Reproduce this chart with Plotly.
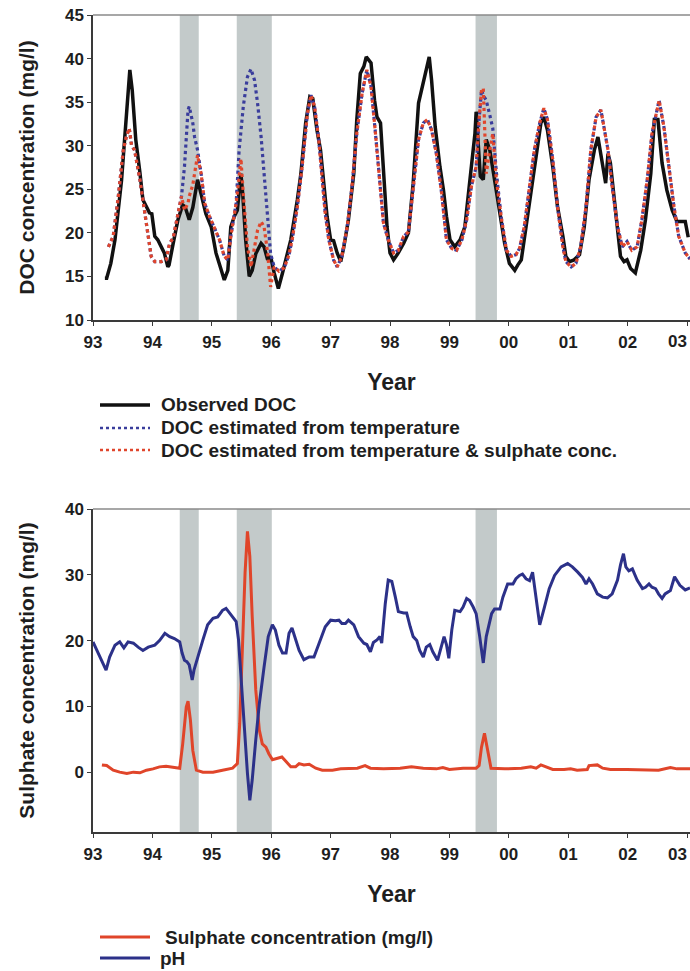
import plotly.graph_objects as go

# ---------------- DATA ----------------
year_ticks = [1993, 1994, 1995, 1996, 1997, 1998, 1999, 2000, 2001, 2002, 2003]
year_labels = ["93", "94", "95", "96", "97", "98", "99", "00", "01", "02", "03"]

band_start = [1994.46, 1995.42, 1999.44]
band_end = [1994.78, 1996.01, 1999.80]

obs_year = [1993.20, 1993.23, 1993.30, 1993.37, 1993.48, 1993.55, 1993.62, 1993.66, 1993.72, 1993.79,
            1993.84, 1993.90, 1993.95, 1993.99, 1994.04, 1994.09, 1994.15, 1994.20, 1994.26, 1994.28,
            1994.35, 1994.43, 1994.51, 1994.55, 1994.62, 1994.68, 1994.76, 1994.82, 1994.90, 1994.99,
            1995.07, 1995.16, 1995.21, 1995.27, 1995.32, 1995.38, 1995.43, 1995.49, 1995.52, 1995.57,
            1995.63, 1995.68, 1995.74, 1995.83, 1995.88, 1995.94, 1995.99, 1996.05, 1996.12, 1996.19,
            1996.27, 1996.33, 1996.44, 1996.50, 1996.58, 1996.65, 1996.70, 1996.77, 1996.83, 1996.89,
            1996.94, 1997.00, 1997.05, 1997.11, 1997.17, 1997.22, 1997.30, 1997.39, 1997.44, 1997.50,
            1997.56, 1997.60, 1997.68, 1997.74, 1997.78, 1997.84, 1997.89, 1997.95, 1998.00, 1998.06,
            1998.14, 1998.23, 1998.31, 1998.39, 1998.48, 1998.56, 1998.66, 1998.70, 1998.76, 1998.84,
            1998.90, 1998.95, 1999.01, 1999.09, 1999.18, 1999.26, 1999.34, 1999.43, 1999.45, 1999.49,
            1999.52, 1999.57, 1999.62, 1999.68, 1999.76, 1999.85, 1999.93, 2000.01, 2000.10, 2000.15,
            2000.21, 2000.29, 2000.38, 2000.46, 2000.54, 2000.59, 2000.65, 2000.74, 2000.82, 2000.91,
            2000.96, 2001.02, 2001.10, 2001.19, 2001.27, 2001.35, 2001.44, 2001.50, 2001.56, 2001.60,
            2001.63, 2001.67, 2001.71, 2001.77, 2001.83, 2001.88, 2001.94, 2001.99, 2002.05, 2002.13,
            2002.22, 2002.30, 2002.39, 2002.45, 2002.51, 2002.58, 2002.66, 2002.75, 2002.83, 2002.97,
            2003.02]
obs_doc = [14.8, 14.8, 16.5, 19.2, 26.0, 32.6, 38.7, 36.4, 30.7, 26.9,
           23.8, 23.0, 22.3, 22.2, 19.6, 19.2, 18.4, 17.7, 16.1, 16.3,
           18.8, 21.5, 23.2, 23.0, 21.5, 22.9, 26.1, 24.5, 22.2, 20.7,
           17.7, 15.7, 14.6, 15.7, 20.7, 21.9, 22.6, 26.8, 24.5, 19.2,
           15.0, 15.7, 17.6, 18.8, 18.4, 16.9, 17.3, 15.4, 13.6, 15.4,
           17.7, 19.2, 23.8, 26.8, 32.6, 35.6, 35.4, 31.8, 29.5, 25.3,
           21.9, 19.2, 19.1, 17.7, 16.7, 18.3, 21.5, 26.8, 32.9, 38.3,
           39.1, 40.2, 39.5, 35.2, 33.3, 32.6, 27.6, 20.7, 17.7, 16.9,
           17.7, 18.8, 20.0, 25.7, 34.9, 37.2, 40.2, 37.5, 32.2, 27.6,
           24.9, 21.9, 19.2, 18.4, 19.2, 20.7, 25.7, 31.4, 33.9, 29.7,
           26.5, 26.1, 30.7, 29.5, 26.1, 21.9, 18.8, 16.5, 15.7, 16.3,
           16.9, 20.7, 24.9, 28.7, 32.6, 33.3, 31.8, 27.6, 23.0, 19.6,
           17.3, 16.7, 16.9, 17.5, 20.7, 26.1, 29.5, 31.0, 28.7, 26.8,
           25.7, 29.1, 28.0, 24.2, 20.7, 17.3, 16.7, 16.9, 15.9, 15.4,
           18.0, 21.5, 26.8, 33.0, 33.0, 28.0, 24.9, 22.6, 21.3, 21.3,
           19.5]

est_year = [1993.26, 1993.34, 1993.42, 1993.51, 1993.56, 1993.61, 1993.65, 1993.70, 1993.79, 1993.87,
            1993.93, 1993.98, 1994.04, 1994.15, 1994.23, 1994.29, 1994.35, 1994.43, 1994.49, 1994.54,
            1994.60, 1994.62, 1994.68, 1994.71, 1994.76, 1994.82, 1994.88, 1994.96, 1995.04, 1995.13,
            1995.21, 1995.27, 1995.32, 1995.41, 1995.46, 1995.49, 1995.53, 1995.60, 1995.66, 1995.72,
            1995.77, 1995.83, 1995.88, 1995.94, 1995.99, 1996.05, 1996.13, 1996.22, 1996.30, 1996.36,
            1996.44, 1996.52, 1996.61, 1996.67, 1996.73, 1996.80, 1996.86, 1996.91, 1996.97, 1997.05,
            1997.11, 1997.19, 1997.28, 1997.36, 1997.44, 1997.53, 1997.61, 1997.68, 1997.75, 1997.84,
            1997.89, 1997.97, 1998.06, 1998.14, 1998.23, 1998.31, 1998.39, 1998.48, 1998.56, 1998.63,
            1998.70, 1998.78, 1998.87, 1998.95, 1999.04, 1999.12, 1999.21, 1999.29, 1999.37, 1999.45,
            1999.50, 1999.54, 1999.57, 1999.59, 1999.62, 1999.68, 1999.73, 1999.79, 1999.87, 1999.96,
            2000.04, 2000.12, 2000.18, 2000.26, 2000.35, 2000.43, 2000.52, 2000.59, 2000.65, 2000.74,
            2000.82, 2000.91, 2000.96, 2001.05, 2001.13, 2001.21, 2001.30, 2001.38, 2001.47, 2001.55,
            2001.60, 2001.67, 2001.74, 2001.83, 2001.91, 2001.99, 2002.07, 2002.16, 2002.24, 2002.33,
            2002.41, 2002.53, 2002.61, 2002.69, 2002.78, 2002.86, 2002.97, 2003.05]
doc_temp = [18.4, 19.6, 23.8, 29.5, 31.0, 32.0, 30.0, 29.5, 26.1, 22.2,
            19.2, 17.3, 16.7, 16.7, 16.9, 18.8, 19.4, 21.9, 24.2, 27.6,
            34.1, 34.5, 32.6, 31.0, 29.5, 26.8, 23.4, 21.9, 20.7, 19.2,
            17.3, 16.9, 19.6, 23.4, 29.5, 32.0, 34.5, 37.9, 38.8, 37.5,
            34.9, 31.0, 26.8, 22.2, 17.6, 16.1, 15.6, 16.0, 17.5, 19.5,
            23.0, 27.6, 33.7, 35.8, 34.5, 30.7, 26.1, 22.2, 19.2, 16.9,
            16.1, 17.3, 20.7, 25.3, 31.4, 36.0, 38.7, 36.8, 31.8, 24.9,
            21.1, 19.2, 17.7, 18.0, 19.6, 20.1, 24.9, 30.7, 32.6, 33.0,
            31.8, 29.1, 24.5, 19.2, 18.2, 18.0, 19.2, 21.5, 25.3, 27.6,
            33.0, 36.4, 35.8, 35.5, 35.2, 33.5, 32.0, 27.0, 21.9, 18.0,
            17.3, 17.5, 18.2, 20.7, 25.3, 29.5, 32.6, 34.3, 33.0, 28.4,
            23.0, 18.4, 16.7, 16.1, 16.5, 18.4, 23.0, 29.5, 33.3, 34.1,
            32.2, 29.5, 25.3, 20.7, 18.4, 19.0, 18.0, 18.4, 21.5, 26.1,
            31.4, 35.2, 32.2, 27.6, 23.0, 19.6, 17.7, 17.0]
doc_temp_sulph = [18.4, 19.6, 23.8, 29.5, 31.0, 32.0, 30.0, 29.5, 26.1, 22.2,
                  19.2, 17.3, 16.7, 16.7, 16.9, 18.8, 19.4, 21.9, 24.2, 22.6,
                  23.4, 24.2, 25.5, 26.8, 28.9, 26.8, 23.4, 21.9, 20.7, 19.2,
                  17.3, 16.9, 19.6, 23.4, 26.4, 28.5, 24.5, 18.4, 16.1, 18.4,
                  20.3, 21.3, 20.7, 17.7, 13.8, 16.1, 15.6, 16.0, 17.5, 19.5,
                  23.0, 27.6, 33.7, 35.8, 34.5, 30.7, 26.1, 22.2, 19.2, 16.9,
                  16.1, 17.3, 20.7, 25.3, 31.4, 36.0, 38.7, 36.8, 31.8, 24.9,
                  21.1, 19.2, 17.7, 18.0, 19.6, 20.1, 24.9, 30.7, 32.6, 33.0,
                  31.8, 29.1, 24.5, 19.2, 18.2, 18.0, 19.2, 21.5, 25.3, 27.6,
                  33.0, 36.4, 36.6, 32.5, 26.8, 29.5, 31.4, 26.1, 21.9, 18.0,
                  17.3, 17.5, 18.2, 20.7, 25.3, 29.5, 32.6, 34.3, 33.0, 28.4,
                  23.0, 18.4, 16.7, 16.1, 16.5, 18.4, 23.0, 29.5, 33.3, 34.1,
                  32.2, 29.5, 25.3, 20.7, 18.4, 19.0, 18.0, 18.4, 21.5, 26.1,
                  31.4, 35.2, 32.2, 27.6, 23.0, 19.6, 17.7, 17.0]

ph_year = [1993.00, 1993.09, 1993.17, 1993.22, 1993.28, 1993.37, 1993.45, 1993.52, 1993.59, 1993.68,
           1993.76, 1993.84, 1993.93, 1994.04, 1994.12, 1994.21, 1994.29, 1994.37, 1994.46, 1994.50,
           1994.54, 1994.58, 1994.62, 1994.67, 1994.70, 1994.76, 1994.85, 1994.93, 1995.02, 1995.10,
           1995.18, 1995.24, 1995.32, 1995.41, 1995.45, 1995.49, 1995.55, 1995.60, 1995.64, 1995.68,
           1995.74, 1995.80, 1995.88, 1995.95, 1996.02, 1996.07, 1996.13, 1996.19, 1996.25, 1996.30,
           1996.35, 1996.40, 1996.47, 1996.55, 1996.64, 1996.72, 1996.83, 1996.91, 1997.00, 1997.08,
           1997.14, 1997.19, 1997.25, 1997.30, 1997.39, 1997.47, 1997.56, 1997.61, 1997.67, 1997.72,
           1997.78, 1997.83, 1997.86, 1997.92, 1997.97, 1998.03, 1998.09, 1998.14, 1998.23, 1998.28,
           1998.34, 1998.39, 1998.45, 1998.50, 1998.56, 1998.61, 1998.67, 1998.72, 1998.80, 1998.86,
           1998.91, 1998.95, 1998.99, 1999.04, 1999.09, 1999.18, 1999.23, 1999.29, 1999.34, 1999.40,
           1999.45, 1999.51, 1999.57, 1999.62, 1999.71, 1999.76, 1999.85, 1999.90, 1999.98, 2000.07,
           2000.12, 2000.18, 2000.23, 2000.29, 2000.35, 2000.40, 2000.46, 2000.52, 2000.60, 2000.68,
           2000.77, 2000.88, 2000.99, 2001.07, 2001.16, 2001.24, 2001.30, 2001.35, 2001.41, 2001.49,
           2001.58, 2001.66, 2001.74, 2001.83, 2001.88, 2001.93, 2001.97, 2002.02, 2002.08, 2002.16,
           2002.25, 2002.30, 2002.36, 2002.41, 2002.47, 2002.52, 2002.58, 2002.63, 2002.72, 2002.79,
           2002.88, 2002.97, 2003.05]
ph = [19.8, 18.0, 16.5, 15.5, 17.5, 19.3, 19.8, 18.9, 19.8, 19.6,
      19.0, 18.5, 19.0, 19.3, 20.0, 21.1, 20.6, 20.3, 19.8, 18.1,
      17.0, 16.8, 16.3, 14.0, 15.5, 17.5, 20.1, 22.4, 23.4, 23.6,
      24.6, 24.9, 23.9, 22.9, 20.1, 14.5, 6.4, -0.2, -4.3, -1.2,
      4.9, 10.4, 16.0, 20.6, 22.4, 21.6, 19.3, 18.1, 18.1, 21.1,
      21.9, 20.6, 18.5, 17.1, 17.5, 17.5, 20.1, 22.1, 23.1, 23.0,
      23.1, 22.6, 22.6, 23.1, 22.4, 20.6, 19.6, 19.4, 18.3, 19.7,
      20.1, 20.6, 19.6, 25.6, 29.2, 29.0, 26.6, 24.4, 24.2, 24.2,
      22.1, 20.6, 20.0, 18.5, 17.5, 19.0, 19.4, 18.3, 17.0, 19.0,
      20.6, 19.4, 17.3, 21.6, 24.6, 24.4, 25.1, 26.4, 26.1, 25.1,
      24.1, 20.6, 16.6, 20.6, 24.1, 24.8, 24.8, 26.6, 28.6, 28.6,
      29.4, 29.9, 30.1, 29.4, 29.1, 30.4, 26.1, 22.4, 25.1, 27.9,
      29.9, 31.2, 31.7, 31.2, 30.4, 29.6, 28.6, 29.4, 28.6, 27.1,
      26.6, 26.5, 27.1, 29.2, 31.5, 33.2, 31.2, 30.6, 30.9, 29.2,
      27.9, 28.1, 28.6, 28.1, 27.9, 27.1, 26.4, 27.1, 27.6, 29.7,
      28.4, 27.7, 28.0]

so4_year = [1993.15, 1993.23, 1993.34, 1993.45, 1993.57, 1993.68, 1993.79, 1993.90, 1994.01, 1994.12,
            1994.23, 1994.35, 1994.46, 1994.51, 1994.57, 1994.60, 1994.64, 1994.68, 1994.74, 1994.85,
            1995.02, 1995.18, 1995.35, 1995.43, 1995.47, 1995.52, 1995.56, 1995.60, 1995.64, 1995.68,
            1995.74, 1995.80, 1995.85, 1995.91, 1995.96, 1996.02, 1996.10, 1996.18, 1996.25, 1996.33,
            1996.41, 1996.47, 1996.55, 1996.64, 1996.75, 1996.86, 1997.03, 1997.17, 1997.45, 1997.58,
            1997.67, 1997.89, 1998.17, 1998.36, 1998.56, 1998.78, 1998.89, 1999.00, 1999.23, 1999.45,
            1999.50, 1999.54, 1999.59, 1999.65, 1999.70, 1999.93, 2000.21, 2000.37, 2000.46, 2000.54,
            2000.62, 2000.74, 2000.93, 2001.04, 2001.15, 2001.32, 2001.35, 2001.49, 2001.58, 2001.71,
            2001.99, 2002.27, 2002.52, 2002.72, 2002.83, 2003.05]
so4 = [1.1, 1.0, 0.3, 0.0, -0.2, 0.0, -0.1, 0.3, 0.5, 0.8,
       0.9, 0.8, 0.6, 4.3, 9.9, 10.8, 7.9, 3.3, 0.3, 0.0,
       0.0, 0.3, 0.6, 1.3, 7.4, 20.1, 30.3, 36.6, 32.8, 23.7,
       12.5, 6.4, 4.3, 3.8, 2.8, 1.9, 2.1, 2.3, 1.6, 0.8,
       0.8, 1.3, 1.1, 1.2, 0.6, 0.3, 0.3, 0.5, 0.6, 1.0,
       0.6, 0.5, 0.6, 0.8, 0.6, 0.5, 0.7, 0.4, 0.6, 0.6,
       1.0, 3.8, 5.9, 2.8, 0.6, 0.5, 0.6, 0.8, 0.6, 1.1,
       0.8, 0.4, 0.4, 0.5, 0.3, 0.4, 1.0, 1.1, 0.6, 0.4,
       0.4, 0.4, 0.3, 0.7, 0.5, 0.5]

top_legend_labels = ["Observed DOC", "DOC estimated from temperature",
                     "DOC estimated from temperature & sulphate conc."]
bottom_legend_labels = ["Sulphate concentration (mg/l)", "pH"]

# ---------------- STYLE / LAYOUT ----------------
FONT = "Liberation Sans, Arial, Helvetica, sans-serif"
AX = "#3a3a3a"
TXT = "#1e1e1e"
W, H = 690, 971          # page body margin is removed by the post_script below


def px(xpix):
    return xpix / W


def py(ypix):
    return 1 - ypix / H


C_OBS = "#111111"
C_TEMP = "#3a3d9c"
C_TS = "#e0462c"
C_SO4 = "#e0452a"
C_PH = "#2c3189"

fig = go.Figure()

fig.add_trace(go.Scatter(x=obs_year, y=obs_doc, mode="lines", name=top_legend_labels[0],
                         line=dict(color=C_OBS, width=3.5), xaxis="x", yaxis="y", showlegend=False))
fig.add_trace(go.Scatter(x=est_year, y=doc_temp, mode="lines", name=top_legend_labels[1],
                         line=dict(color=C_TEMP, width=3.2, dash="dot"), xaxis="x", yaxis="y",
                         showlegend=False))
fig.add_trace(go.Scatter(x=est_year, y=doc_temp_sulph, mode="lines", name=top_legend_labels[2],
                         line=dict(color=C_TS, width=3.2, dash="dot"), xaxis="x", yaxis="y",
                         showlegend=False))
fig.add_trace(go.Scatter(x=so4_year, y=so4, mode="lines", name=bottom_legend_labels[0],
                         line=dict(color=C_SO4, width=3), xaxis="x2", yaxis="y2", showlegend=False))
fig.add_trace(go.Scatter(x=ph_year, y=ph, mode="lines", name=bottom_legend_labels[1],
                         line=dict(color=C_PH, width=3), xaxis="x2", yaxis="y2", showlegend=False))

shapes = []
for xr, yr in (("x", "y"), ("x2", "y2")):
    for s, e in zip(band_start, band_end):
        shapes.append(dict(type="rect", xref=xr, yref=yr + " domain", x0=s, x1=e, y0=0, y1=1,
                           fillcolor="#c3caca", line=dict(width=0), layer="below"))
    shapes.append(dict(type="line", xref=xr + " domain", yref=yr + " domain", x0=0, x1=1, y0=1, y1=1,
                       line=dict(color="#8a8a8a", width=1.5)))

annotations = []
LEG_FONT = dict(family=FONT, size=19, color=TXT, weight="bold")
top_rows = [405, 428, 450]
top_styles = [(C_OBS, "solid", 3.5), (C_TEMP, "dot", 2.5), (C_TS, "dot", 2.5)]
for label, row, (col, dash, wd) in zip(top_legend_labels, top_rows, top_styles):
    shapes.append(dict(type="line", xref="paper", yref="paper", x0=px(100), x1=px(150),
                       y0=py(row), y1=py(row), line=dict(color=col, width=wd, dash=dash)))
    annotations.append(dict(text=label, xref="paper", yref="paper", x=px(159), y=py(row),
                            xanchor="left", yanchor="middle", showarrow=False, font=LEG_FONT))
bottom_rows = [937, 958]
bottom_styles = [(C_SO4, 3.0, 163), (C_PH, 3.0, 158)]
for label, row, (col, wd, tx) in zip(bottom_legend_labels, bottom_rows, bottom_styles):
    shapes.append(dict(type="line", xref="paper", yref="paper", x0=px(100), x1=px(150),
                       y0=py(row), y1=py(row), line=dict(color=col, width=wd)))
    annotations.append(dict(text=label, xref="paper", yref="paper", x=px(tx), y=py(row),
                            xanchor="left", yanchor="middle", showarrow=False, font=LEG_FONT))

tickfont = dict(family=FONT, size=17, color=TXT, weight="bold")
titlefont_y = dict(family=FONT, size=21, color=TXT, weight="bold")
titlefont_x = dict(family=FONT, size=23, color=TXT, weight="bold")

# the last year label sits at the right edge of the page: draw it kept inside the page
shown_labels = year_labels[:-1] + [""]
for row in (342, 854):
    annotations.append(dict(text=year_labels[-1], xref="paper", yref="paper", x=px(689), y=py(row),
                            xanchor="right", yanchor="middle", showarrow=False, font=tickfont))

xcommon = dict(range=[1993, 2003.05], tickvals=year_ticks, ticktext=shown_labels, showgrid=False,
               zeroline=False, showline=True, linecolor=AX, linewidth=1.5, ticks="outside",
               ticklen=4, tickcolor=AX, tickfont=tickfont, ticklabelstandoff=2,
               ticklabeloverflow="allow", domain=[px(93), 1.0], automargin=False)
ycommon = dict(showgrid=False, zeroline=False, showline=True, linecolor=AX, linewidth=1.5,
               ticks="outside", ticklen=4, tickcolor=AX, tickfont=tickfont,
               ticklabeloverflow="allow", automargin=False)

fig.update_layout(
    width=W, height=H,
    margin=dict(l=0, r=0, t=0, b=0),
    paper_bgcolor="#ffffff",
    plot_bgcolor="#ffffff",
    font=dict(family=FONT, color=TXT),
    showlegend=False,
    shapes=shapes,
    annotations=annotations,
    xaxis=dict(**xcommon, anchor="y",
               title=dict(text="Year", font=titlefont_x, standoff=23)),
    yaxis=dict(**ycommon, anchor="x", domain=[py(320), py(15)], range=[10, 45], dtick=5,
               title=dict(text="DOC concentration (mg/l)", font=titlefont_y, standoff=25)),
    xaxis2=dict(**xcommon, anchor="y2",
                title=dict(text="Year", font=titlefont_x, standoff=23)),
    yaxis2=dict(**ycommon, anchor="x2", domain=[py(832), py(509)], range=[-9.1, 40],
                tickvals=[0, 10, 20, 30, 40],
                title=dict(text="Sulphate concentration (mg/l)", font=titlefont_y, standoff=25)),
)

fig.write_html("out.html", config={"displayModeBar": False},
               post_script="document.body.style.margin='0px';document.body.style.overflow='hidden';")
